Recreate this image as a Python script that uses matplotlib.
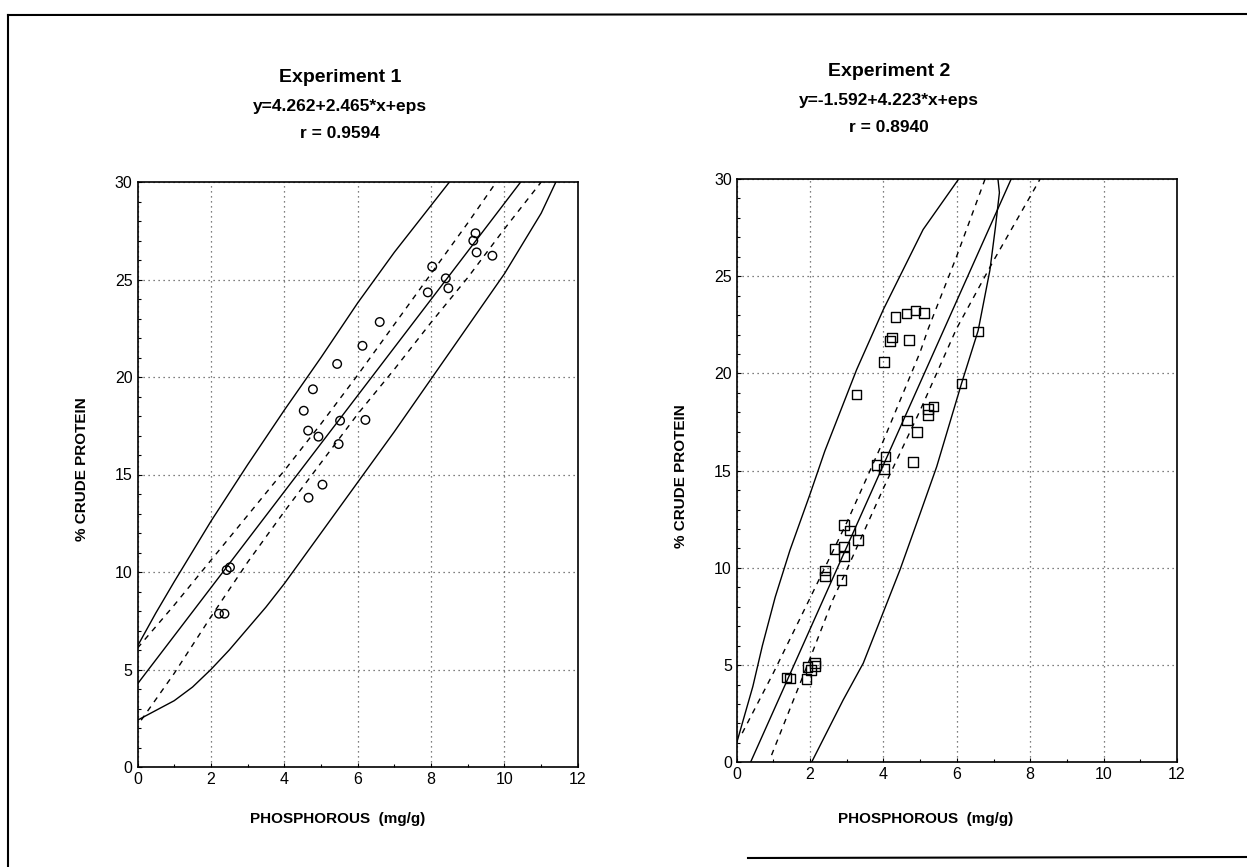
import matplotlib.pyplot as plt
from matplotlib.lines import Line2D
from matplotlib.ticker import MultipleLocator

plt.rcParams['font.family'] = ['Liberation Sans Narrow', 'Liberation Sans', 'DejaVu Sans']

# ---- Experiment 1 data
x1 = [2.22, 2.37, 2.43, 2.52, 4.53, 4.65, 4.66, 4.78, 4.93, 5.04, 5.44, 5.48,
      5.52, 6.13, 6.21, 6.60, 7.91, 8.03, 8.40, 8.47, 9.15, 9.21, 9.24, 9.67]
y1 = [7.86, 7.86, 10.10, 10.24, 18.27, 17.25, 13.81, 19.37, 16.94, 14.48, 20.67, 16.56,
      17.76, 21.60, 17.80, 22.82, 24.34, 25.66, 25.06, 24.55, 26.99, 27.37, 26.39, 26.22]
fit1 = (4.262, 2.465)
title1 = ['Experiment 1', 'y=4.262+2.465*x+eps', 'r = 0.9594']

# prediction band (solid) and confidence band (dashed), traced
pu1_x = [0, 0.5, 1, 2, 3, 4, 5, 6, 7, 8, 8.5]
pu1_y = [6.2, 7.9, 9.5, 12.6, 15.5, 18.3, 21.0, 23.8, 26.4, 28.8, 30.0]
pl1_x = [0, 0.5, 1, 1.5, 2, 2.5, 3, 3.5, 4, 5, 6, 7, 8, 9, 10, 11, 11.4]
pl1_y = [2.4, 2.9, 3.4, 4.1, 5.0, 6.0, 7.1, 8.2, 9.4, 12.0, 14.6, 17.2, 19.9, 22.6, 25.3, 28.4, 30.0]
cu1_x = [0, 1, 2, 3, 4, 5, 6, 7, 8, 9, 10]
cu1_y = [6.1, 8.3, 10.6, 12.9, 15.2, 17.6, 20.1, 22.7, 25.3, 27.9, 30.6]
cl1_x = [0.1, 1, 2, 3, 4, 5, 6, 7, 8, 9, 10, 11]
cl1_y = [2.4, 4.8, 7.7, 10.5, 13.1, 15.6, 18.1, 20.4, 22.8, 25.1, 27.6, 30.0]

# ---- Experiment 2 data
x2 = [1.36, 1.45, 1.90, 1.93, 2.02, 2.14, 2.14, 2.40, 2.40, 2.86, 2.67, 2.92,
      2.92, 2.92, 3.09, 3.30, 3.26, 3.81, 4.02, 4.06, 4.81, 4.01, 4.18, 4.24,
      4.33, 4.63, 4.87, 5.11, 4.69, 6.58, 6.13, 5.22, 5.36, 5.22, 4.64, 4.91]
y2 = [4.36, 4.31, 4.30, 4.89, 4.75, 5.10, 4.95, 9.86, 9.55, 9.38, 10.98, 11.10,
      10.58, 12.21, 11.92, 11.44, 18.91, 15.28, 15.10, 15.73, 15.44, 20.60, 21.68, 21.85,
      22.90, 23.09, 23.23, 23.10, 21.72, 22.16, 19.49, 18.17, 18.30, 17.87, 17.58, 17.00]
fit2 = (-1.592, 4.223)
title2 = ['Experiment 2', 'y=-1.592+4.223*x+eps', 'r = 0.8940']

pu2_x = [0, 0.44, 0.7, 1.05, 1.45, 2.0, 2.4, 3.27, 4.0, 5.08, 6.05]
pu2_y = [1.0, 3.9, 6.0, 8.5, 10.9, 13.8, 16.0, 20.2, 23.3, 27.4, 30.0]
pl2_x = [2.04, 2.9, 3.45, 4.45, 5.0, 5.45, 6.13, 6.58, 6.9, 7.05, 7.16, 7.12]
pl2_y = [0.0, 3.2, 5.1, 9.9, 12.8, 15.2, 19.5, 22.2, 25.3, 27.5, 29.3, 30.0]
cu2_x = [0.15, 1, 2, 3, 4, 5, 5.22, 6, 6.77]
cu2_y = [1.5, 4.6, 8.45, 12.33, 16.55, 21.1, 22.3, 26.05, 30.0]
cl2_x = [0.95, 2, 2.62, 3, 4, 5, 5.99, 7, 8.27]
cl2_y = [0.37, 5.35, 8.36, 9.9, 14.1, 18.1, 22.3, 25.8, 30.0]

xticks = [0, 2, 4, 6, 8, 10, 12]
yticks = [0, 5, 10, 15, 20, 25, 30]

fig = plt.figure(figsize=(12.47, 8.67), dpi=100)
W, H = 1247, 867


def panel(rect, xs, ys, fit, bands, marker, msize):
    ax = fig.add_axes(rect)
    ax.set_xlim(0, 12)
    ax.set_ylim(0, 30)
    ax.set_xticks(xticks)
    ax.set_yticks(yticks)
    ax.xaxis.set_minor_locator(MultipleLocator(1))
    ax.yaxis.set_minor_locator(MultipleLocator(1))
    ax.tick_params(which='both', direction='in', labelsize=11.5, length=3, width=0.8)
    ax.tick_params(which='minor', length=2)
    ax.grid(True, which='major', linestyle=(0, (1, 3)), color='#555555', linewidth=0.9)
    for s in ax.spines.values():
        s.set_linewidth(1.2)
    ax.axline((0, fit[0]), slope=fit[1], color='black', linewidth=1.0)
    (pux, puy), (plx, ply), (cux, cuy), (clx, cly) = bands
    ax.plot(pux, puy, color='black', linewidth=1.0)
    ax.plot(plx, ply, color='black', linewidth=1.0)
    ax.plot(cux, cuy, color='black', linewidth=1.0, linestyle=(0, (4, 4)))
    ax.plot(clx, cly, color='black', linewidth=1.0, linestyle=(0, (4, 4)))
    ax.scatter(xs, ys, marker=marker, s=msize, facecolors='none',
               edgecolors='black', linewidths=1.0, zorder=3)
    ax.set_xlabel('PHOSPHOROUS  (mg/g)', fontsize=11, fontweight='bold')
    ax.set_ylabel('% CRUDE PROTEIN', fontsize=11, fontweight='bold')
    return ax


ax1 = panel([137.5 / W, (H - 767) / H, 440.4 / W, 585 / H], x1, y1, fit1,
            [(pu1_x, pu1_y), (pl1_x, pl1_y), (cu1_x, cu1_y), (cl1_x, cl1_y)], 'o', 38)
ax1.xaxis.set_label_coords(0.455, -0.077)
ax1.yaxis.set_label_coords(-0.11, 0.51)

ax2 = panel([736.7 / W, (H - 762.3) / H, 440.3 / W, 583.3 / H], x2, y2, fit2,
            [(pu2_x, pu2_y), (pl2_x, pl2_y), (cu2_x, cu2_y), (cl2_x, cl2_y)], 's', 48)
ax2.xaxis.set_label_coords(0.43, -0.085)
ax2.yaxis.set_label_coords(-0.11, 0.49)

# titles
for cx, ty, lines in [(340, [78, 107, 134], title1), (889, [72, 100, 128], title2)]:
    fig.text(cx / W, 1 - ty[0] / H, lines[0], ha='center', va='center',
             fontsize=14, fontweight='bold')
    fig.text(cx / W, 1 - ty[1] / H, lines[1], ha='center', va='center',
             fontsize=12.5, fontweight='bold')
    fig.text(cx / W, 1 - ty[2] / H, lines[2], ha='center', va='center',
             fontsize=12.5, fontweight='bold')

# scanned page frame
fig.add_artist(Line2D([8 / W, 1], [1 - 15 / H, 1 - 14 / H], color='black', linewidth=1.5))
fig.add_artist(Line2D([8 / W, 8 / W], [1 - 15 / H, 0], color='black', linewidth=1.5))
fig.add_artist(Line2D([748 / W, 1], [1 - 858 / H, 1 - 857 / H], color='black', linewidth=1.5))

fig.savefig('out.png', dpi=100)
